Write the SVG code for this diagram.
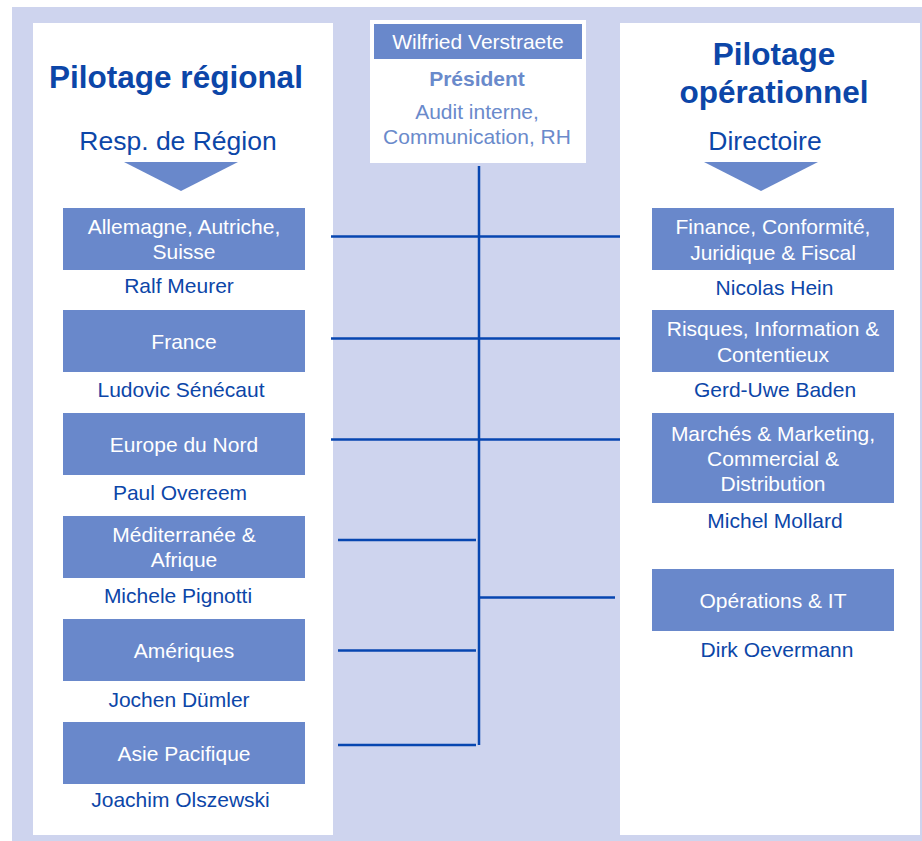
<svg xmlns="http://www.w3.org/2000/svg" width="922" height="841" viewBox="0 0 922 841">
<style>
text{font-family:"Liberation Sans",Arial,sans-serif;text-anchor:middle}
.panel{fill:#ffffff}
.box{fill:#6988CB}
.bt{fill:#ffffff;font-size:21px}
.nm{fill:#0C46A8;font-size:21px}
.title{fill:#0C46A8;font-size:31.5px;font-weight:bold}
.sub{fill:#0C46A8;font-size:26.5px}
.lt{fill:#6A8ACB;font-size:21px}
.tri{fill:#6988CB}
.conn line{stroke:#0746B0;stroke-width:2.5}
</style>
<rect x="12" y="7" width="910" height="834" fill="#CED4EE"/>
<rect class="panel" x="33" y="23" width="300" height="812"/>
<rect class="panel" x="620" y="23" width="300" height="812"/>

<g id="header-left">
<text class="title" x="176" y="88">Pilotage régional</text>
<text class="sub" x="178" y="150">Resp. de Région</text>
<polygon class="tri" points="124,162 238,162 181,191"/>
</g>
<g id="header-right">
<text class="title" x="774" y="65">Pilotage</text>
<text class="title" x="774" y="103">opérationnel</text>
<text class="sub" x="765" y="150">Directoire</text>
<polygon class="tri" points="704,162 818,162 761,191"/>
</g>

<g id="president">
<rect class="panel" x="370" y="20" width="216" height="143"/>
<rect class="box" x="374" y="24" width="208" height="35"/>
<text class="bt" x="478" y="48.5">Wilfried Verstraete</text>
<text class="lt" x="477" y="86" font-weight="bold">Président</text>
<text class="lt" x="477" y="119">Audit interne,</text>
<text class="lt" x="477" y="143.5">Communication, RH</text>
</g>

<g class="conn" id="connectors">
<line x1="479" y1="166" x2="479" y2="745"/>
<line x1="331" y1="236.5" x2="620" y2="236.5"/>
<line x1="331" y1="338.5" x2="620" y2="338.5"/>
<line x1="331" y1="439.5" x2="620" y2="439.5"/>
<line x1="338" y1="540" x2="476" y2="540"/>
<line x1="338" y1="650.5" x2="476" y2="650.5"/>
<line x1="338" y1="745" x2="476" y2="745"/>
<line x1="479" y1="597.5" x2="615" y2="597.5"/>
</g>

<g id="allemagne">
<rect class="box" x="63" y="208" width="242" height="62"/>
<text class="bt" x="184" y="234">Allemagne, Autriche,</text>
<text class="bt" x="184" y="259">Suisse</text>
<text class="nm" x="179" y="293">Ralf Meurer</text>
</g>
<g id="france">
<rect class="box" x="63" y="310" width="242" height="62"/>
<text class="bt" x="184" y="348.5">France</text>
<text class="nm" x="181" y="397">Ludovic Sénécaut</text>
</g>
<g id="europe-nord">
<rect class="box" x="63" y="413" width="242" height="62"/>
<text class="bt" x="184" y="451.5">Europe du Nord</text>
<text class="nm" x="180" y="500">Paul Overeem</text>
</g>
<g id="mediterranee">
<rect class="box" x="63" y="516" width="242" height="62"/>
<text class="bt" x="184" y="542">Méditerranée &amp;</text>
<text class="bt" x="184" y="567">Afrique</text>
<text class="nm" x="178" y="603">Michele Pignotti</text>
</g>
<g id="ameriques">
<rect class="box" x="63" y="619" width="242" height="62"/>
<text class="bt" x="184" y="657.5">Amériques</text>
<text class="nm" x="179" y="707">Jochen Dümler</text>
</g>
<g id="asie">
<rect class="box" x="63" y="722" width="242" height="62"/>
<text class="bt" x="184" y="760.5">Asie Pacifique</text>
<text class="nm" x="180.5" y="807">Joachim Olszewski</text>
</g>

<g id="finance">
<rect class="box" x="652" y="208" width="242" height="62"/>
<text class="bt" x="773" y="234">Finance, Conformité,</text>
<text class="bt" x="773" y="259.5">Juridique &amp; Fiscal</text>
<text class="nm" x="774.5" y="295">Nicolas Hein</text>
</g>
<g id="risques">
<rect class="box" x="652" y="310" width="242" height="62"/>
<text class="bt" x="773" y="336">Risques, Information &amp;</text>
<text class="bt" x="773" y="361.5">Contentieux</text>
<text class="nm" x="775" y="397">Gerd-Uwe Baden</text>
</g>
<g id="marches">
<rect class="box" x="652" y="413" width="242" height="90"/>
<text class="bt" x="773" y="440.5">Marchés &amp; Marketing,</text>
<text class="bt" x="773" y="465.5">Commercial &amp;</text>
<text class="bt" x="773" y="491">Distribution</text>
<text class="nm" x="775" y="528">Michel Mollard</text>
</g>
<g id="operations">
<rect class="box" x="652" y="569" width="242" height="62"/>
<text class="bt" x="773" y="608">Opérations &amp; IT</text>
<text class="nm" x="777" y="657">Dirk Oevermann</text>
</g>
</svg>
